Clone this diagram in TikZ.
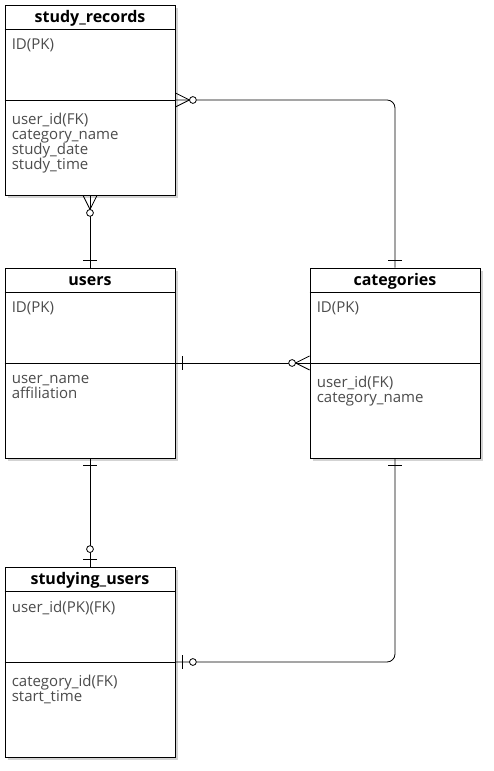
\documentclass[tikz,border=0pt]{standalone}
\usepackage{fontspec}
\setmainfont{Open Sans}
\usetikzlibrary{shadows}
\colorlet{fieldgray}[rgb]{black!70}

\tikzset{
    entity/.style={
        draw,
        fill=white,
        line width=0.8pt,
        minimum width=170pt,
        minimum height=190pt,
        drop shadow={shadow xshift=3pt, shadow yshift=-3pt, opacity=0.35}
    },
    entitytitle/.style={font=\bfseries\fontsize{16}{18}\selectfont},
    field/.style={
        anchor=north west,
        align=left,
        inner sep=0pt,
        text=fieldgray,
        font=\fontsize{15}{15}\selectfont
    },
    rel/.style={line width=0.8pt},
    one/.pic={
        \draw[rel] (7,-7) -- (7,7);
    },
    zeroone/.pic={
        \draw[rel] (7,-7) -- (7,7);
        \draw[rel, fill=white] (17.5,0) circle (3.4);
    },
    zeromany/.pic={
        \draw[rel] (0,7) -- (14,0) -- (0,-7);
        \draw[rel, fill=white] (17.5,0) circle (3.4);
    }
}

% name, centre, title, key fields, other fields
\newcommand{\ertable}[5]{%
    \node[entity] (#1) at (#2) {};
    \draw[rel] ([yshift=-25pt]#1.north west) -- ([yshift=-25pt]#1.north east);
    \draw[rel] (#1.west) -- (#1.east);
    \node[entitytitle] at ([yshift=-14pt]#1.north) {#3};
    \node[field] at ([xshift=7pt,yshift=-34pt]#1.north west) {#4};
    \node[field] at ([xshift=7pt,yshift=-12.5pt]#1.west) {#5};
}

\begin{document}
\begin{tikzpicture}[x=1pt, y=1pt]
    \useasboundingbox (0,0) rectangle (494,771);

    % tables
    \ertable{records}{90,671}{study\_records}{ID(PK)}{user\_id(FK)\\category\_name\\study\_date\\study\_time}
    \ertable{users}{90,408}{users}{ID(PK)}{user\_name\\affiliation}
    \ertable{categories}{395,408}{categories}{ID(PK)}{user\_id(FK)\\category\_name}
    \ertable{studying}{90,109}{studying\_users}{user\_id(PK)(FK)}{category\_id(FK)\\start\_time}

    % relations
    \draw[rel, rounded corners=8pt] (records.east) -| (categories.north);
    \draw[rel] (records.south) -- (users.north);
    \draw[rel] (users.east) -- (categories.west);
    \draw[rel] (users.south) -- (studying.north);
    \draw[rel, rounded corners=8pt] (studying.east) -| (categories.south);

    % cardinality marks
    \pic at (records.east) {zeromany};
    \pic[rotate=90] at (categories.north) {one};
    \pic[rotate=-90] at (records.south) {zeromany};
    \pic[rotate=90] at (users.north) {one};
    \pic at (users.east) {one};
    \pic[rotate=180] at (categories.west) {zeromany};
    \pic[rotate=-90] at (users.south) {one};
    \pic[rotate=90] at (studying.north) {zeroone};
    \pic at (studying.east) {zeroone};
    \pic[rotate=-90] at (categories.south) {one};
\end{tikzpicture}
\end{document}
